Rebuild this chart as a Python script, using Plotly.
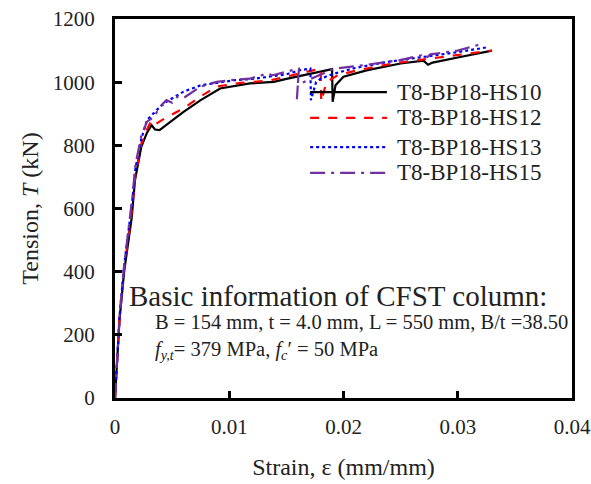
import plotly.graph_objects as go

# ---- data (strain in mm/mm, tension in kN) ----
hs10_x = [0, 0.0004, 0.0008, 0.0012, 0.00146, 0.00175, 0.0023, 0.0028, 0.0032, 0.0035, 0.0039,
          0.0047, 0.006, 0.0075, 0.0092, 0.0118, 0.0139, 0.0151, 0.0174, 0.0190, 0.01905,
          0.0193, 0.0200, 0.0221, 0.0250, 0.0270, 0.0274, 0.0278, 0.0300, 0.0326, 0.0330]
hs10_y = [0, 250, 400, 500, 570, 690, 795, 840, 864, 850, 848,
          870, 906, 943, 980, 996, 1001, 1011, 1028, 1041, 938,
          990, 1017, 1038, 1059, 1068, 1055, 1062, 1078, 1097, 1100]

hs12_x = [0, 0.0004, 0.0008, 0.0012, 0.0015, 0.0018, 0.0023, 0.0028, 0.0032, 0.0036, 0.0041,
          0.006, 0.0075, 0.0089, 0.0110, 0.0135, 0.0151, 0.0165, 0.0180, 0.01805,
          0.0185, 0.0195, 0.0215, 0.0245, 0.0270, 0.0300, 0.0330]
hs12_y = [0, 250, 410, 520, 600, 710, 805, 850, 880, 868, 880,
          917, 955, 986, 998, 1005, 1018, 1030, 1043, 938,
          1000, 1022, 1040, 1060, 1072, 1085, 1100]

hs13_x = [0, 0.0004, 0.0008, 0.0012, 0.0015, 0.0018, 0.0023, 0.0028, 0.0033, 0.0038, 0.0045,
          0.006, 0.0075, 0.0090, 0.0104, 0.0120, 0.0133, 0.0150, 0.0162, 0.0171, 0.01715,
          0.0176, 0.0180, 0.0190, 0.0210, 0.0240, 0.0270, 0.0300, 0.0325]
hs13_y = [0, 260, 420, 540, 620, 730, 820, 880, 900, 917, 938,
          970, 990, 998, 1006, 1010, 1017, 1025, 1038, 1043, 943,
          1000, 1011, 1025, 1045, 1065, 1080, 1095, 1110]

hs15_x = [0, 0.0004, 0.0008, 0.0012, 0.0015, 0.0018, 0.0023, 0.0028, 0.0034, 0.0040, 0.0045,
          0.0050, 0.0055, 0.0060, 0.0075, 0.0089, 0.0105, 0.0118, 0.0133, 0.0138, 0.0146,
          0.0156, 0.0161, 0.01592, 0.0160, 0.0165, 0.0172, 0.0182, 0.0192, 0.0220, 0.0250,
          0.0268, 0.0272, 0.0276, 0.0300, 0.0320]
hs15_y = [0, 260, 420, 540, 630, 740, 830, 875, 890, 925, 943,
          935, 955, 950, 986, 1001, 1008, 1011, 1027, 1022, 1030,
          1038, 1043, 946, 990, 1000, 1011, 1025, 1043, 1055, 1070,
          1085, 1075, 1088, 1100, 1120]

series_names = ["T8-BP18-HS10", "T8-BP18-HS12", "T8-BP18-HS13", "T8-BP18-HS15"]
x_ticks = [0, 0.01, 0.02, 0.03, 0.04]
x_tick_labels = ["0", "0.01", "0.02", "0.03", "0.04"]
y_ticks = [0, 200, 400, 600, 800, 1000, 1200]

FONT = "Liberation Serif, Times New Roman, serif"
TXT = "#222222"

fig = go.Figure()
styles = [("#000000", "solid"), ("#FF0000", "dash"), ("#0000FF", "dot"), ("#7030A0", "longdashdot")]
for name, xs, ys, (c, d) in zip(series_names, [hs10_x, hs12_x, hs13_x, hs15_x],
                                [hs10_y, hs12_y, hs13_y, hs15_y], styles):
    fig.add_trace(go.Scatter(x=xs, y=ys, mode="lines", name=name, showlegend=False,
                             line=dict(color=c, width=2.2, dash=d)))

# manual legend (paper coordinates), to match the long sample lines of the reference
leg_y = [0.807, 0.739, 0.662, 0.594]
for name, (c, d), ly in zip(series_names, styles, leg_y):
    fig.add_shape(type="line", xref="paper", yref="paper", x0=0.427, x1=0.595, y0=ly, y1=ly,
                  line=dict(color=c, width=2.2, dash=d))
    fig.add_annotation(xref="paper", yref="paper", x=0.612, y=ly, xanchor="left", yanchor="middle",
                       text=name, showarrow=False, font=dict(size=23, family=FONT, color=TXT))

fig.update_layout(
    width=591, height=484,
    margin=dict(l=115, r=19, t=19, b=86, autoexpand=False),
    paper_bgcolor="white", plot_bgcolor="white",
    font=dict(family=FONT, color=TXT, size=21),
    showlegend=False,
    xaxis=dict(range=[0, 0.04], tickvals=x_ticks, ticktext=x_tick_labels, automargin=False,
               ticks="inside", ticklen=7, tickwidth=2.5, tickcolor="black",
               showline=True, linewidth=3, linecolor="black", mirror=True,
               showgrid=False, zeroline=False, ticklabelstandoff=8,
               tickfont=dict(size=21, family=FONT, color=TXT),
               title=dict(text="Strain, ε (mm/mm)", font=dict(size=24, family=FONT, color=TXT),
                          standoff=20)),
    yaxis=dict(range=[0, 1200], tickvals=y_ticks, automargin=False,
               ticks="inside", ticklen=7, tickwidth=2.5, tickcolor="black",
               showline=True, linewidth=3, linecolor="black", mirror=True,
               showgrid=False, zeroline=False, ticklabelstandoff=13,
               tickfont=dict(size=21, family=FONT, color=TXT),
               title=dict(text="Tension, <i>T</i> (kN)", font=dict(size=24, family=FONT, color=TXT),
                          standoff=8)),
)

fig.add_annotation(xref="paper", yref="paper", x=0.026, y=0.269, xanchor="left", yanchor="middle",
                   text="Basic information of CFST column:", showarrow=False,
                   font=dict(size=29, family=FONT, color=TXT))
fig.add_annotation(xref="paper", yref="paper", x=0.083, y=0.2, xanchor="left", yanchor="middle",
                   text="B = 154 mm, t = 4.0 mm, L = 550 mm, B/t =38.50", showarrow=False,
                   font=dict(size=20.5, family=FONT, color=TXT))
fig.add_annotation(xref="paper", yref="paper", x=0.083, y=0.125, xanchor="left", yanchor="middle",
                   text="<i>f</i><sub><i>y,t</i></sub>= 379 MPa, <i>f</i><sub><i>c</i></sub>′ = 50 MPa",
                   showarrow=False, font=dict(size=20.5, family=FONT, color=TXT))

fig.write_html("out.html", config={"displayModeBar": False},
               post_script="document.body.style.margin='0';document.body.style.overflow='hidden';")
